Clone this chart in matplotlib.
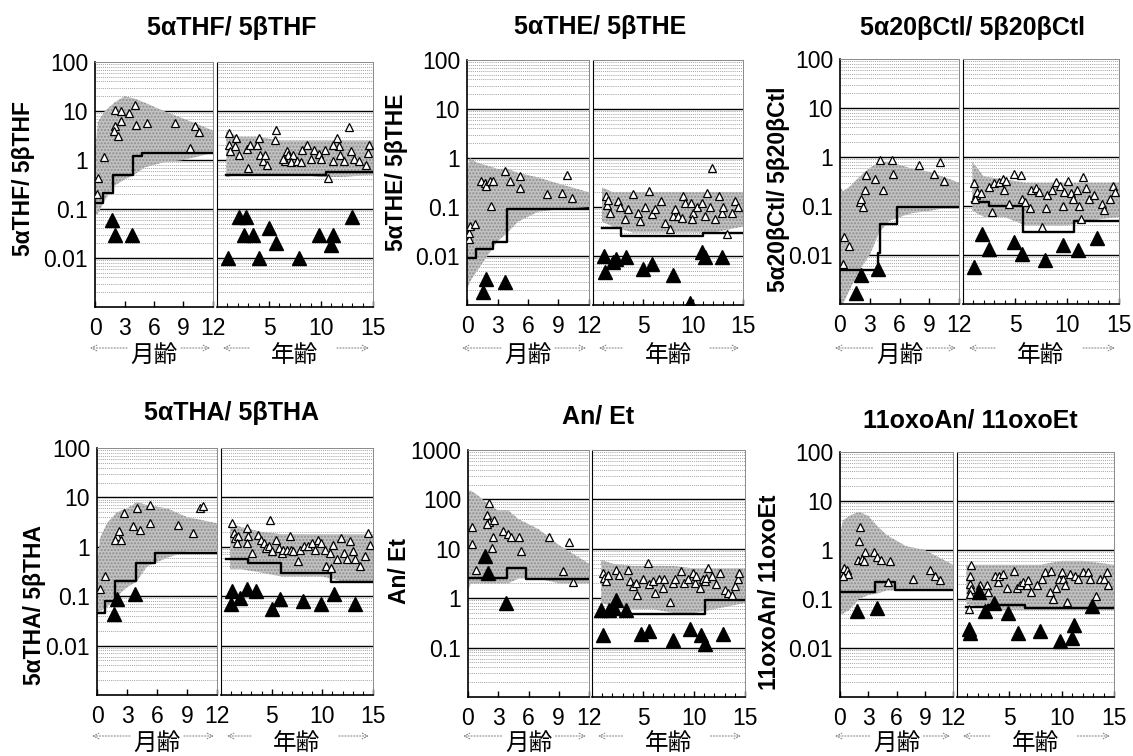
import numpy as np
import matplotlib
matplotlib.use("Agg")
import matplotlib.pyplot as plt
from matplotlib.ticker import FixedLocator, NullFormatter, MultipleLocator

plt.rcParams['font.family'] = ['Liberation Sans', 'Noto Sans CJK JP', 'DejaVu Sans']

# ---------------- data ----------------
titles = ["5αTHF/ 5βTHF", "5αTHE/ 5βTHE", "5α20βCtl/ 5β20βCtl",
          "5αTHA/ 5βTHA", "An/ Et", "11oxoAn/ 11oxoEt"]
ylims = [(0.001, 100), (0.001, 100), (0.001, 100), (0.001, 100), (0.01, 1000), (0.001, 100)]
month_ticks = [0, 3, 6, 9, 12]
year_ticks = [5, 10, 15]
month_label = "月齢"
year_label = "年齢"

cloud_mo_age = [0, 0.3, 1, 2, 3, 4, 5, 7, 9, 12]
cloud_yr_age = [0.9, 2, 4, 6, 8, 10, 12, 15]

# 1: THF
thf_cloud_mo_lo = [0.08, 0.08, 0.15, 0.3, 0.4, 0.5, 0.7, 0.9, 1.0, 1.4]
thf_cloud_mo_hi = [1.5, 6, 10, 15, 20, 18, 15, 10, 7, 4]
thf_cloud_yr_lo = [0.45, 0.5, 0.5, 0.5, 0.5, 0.45, 0.45, 0.5]
thf_cloud_yr_hi = [4, 3, 3, 2.5, 2.5, 2.5, 2.5, 2.5]
thf_open_mo_age = [0.34, 0.2, 0.9, 2.0, 2.6, 3.5, 4.1, 2.6, 2.0, 1.9, 2.3, 4.2, 5.3, 8.1, 10.2, 10.6, 9.7]
thf_open_mo_val = [0.43, 0.2, 1.15, 10.7, 10, 9, 13.5, 6.2, 4.9, 3.9, 3.1, 5.3, 5.7, 5.7, 4.9, 3.7, 1.75]
thf_fill_mo_age = [1.7, 2.0, 3.8]
thf_fill_mo_val = [0.06, 0.03, 0.03]
thf_step_mo_edges = [0, 0.8, 1.8, 3.9, 4.8, 12]
thf_step_mo_vals = [0.13, 0.21, 0.5, 1.2, 1.4]
thf_open_yr_age = [1.19, 1.2, 1.25, 1.83, 1.75, 2.07, 3.0, 2.85, 3.2, 3.8, 4.0, 4.1, 4.45, 4.8, 4.6, 5.7, 5.55,
                   6.7, 6.85, 7.3, 6.5, 6.3, 7.1, 7.7, 8.05, 8.2, 8.7, 9.0, 9.3, 9.8, 10.0, 10.4, 10.7, 11.2,
                   11.5, 11.7, 11.2, 11.85, 12.2, 12.7, 12.85, 13.2, 13.7, 14.5, 14.6, 14.3]
thf_open_yr_val = [3.5, 2.0, 1.5, 2.8, 1.9, 1.27, 0.68, 1.7, 2.0, 2.0, 2.8, 1.27, 0.94, 0.79, 1.27, 4.1, 2.56,
                   1.5, 1.27, 1.27, 0.94, 1.05, 0.9, 0.94, 0.9, 1.6, 2.0, 1.05, 1.6, 1.3, 1.05, 1.6, 0.43, 0.95,
                   2.8, 1.9, 2.0, 1.27, 0.94, 4.8, 1.5, 1.05, 0.94, 1.4, 2.0, 0.79]
thf_fill_yr_age = [1.1, 2.07, 2.8, 2.6, 3.5, 4.0, 5.0, 5.7, 7.9, 9.8, 11.2, 11.0, 13.0]
thf_fill_yr_val = [0.01, 0.07, 0.07, 0.03, 0.03, 0.01, 0.04, 0.02, 0.01, 0.03, 0.03, 0.018, 0.07]
thf_step_yr_edges = [0.9, 10.5, 15]
thf_step_yr_vals = [0.5, 0.58]

# 2: THE
the_cloud_mo_lo = [0.002, 0.003, 0.005, 0.01, 0.02, 0.03, 0.05, 0.08, 0.09, 0.1]
the_cloud_mo_hi = [0.6, 1.0, 0.8, 0.7, 0.6, 0.6, 0.5, 0.4, 0.3, 0.2]
the_cloud_yr_lo = [0.05, 0.04, 0.03, 0.03, 0.03, 0.03, 0.03, 0.04]
the_cloud_yr_hi = [0.25, 0.2, 0.2, 0.2, 0.2, 0.2, 0.2, 0.2]
the_open_mo_age = [0.17, 0.2, 0.33, 0.76, 1.4, 1.75, 1.9, 2.25, 2.6, 2.4, 3.7, 4.2, 5.2, 5.2, 7.9, 9.35, 9.85, 10.3]
the_open_mo_val = [0.022, 0.03, 0.041, 0.044, 0.34, 0.31, 0.27, 0.34, 0.34, 0.105, 0.54, 0.34, 0.43, 0.25,
                   0.18, 0.19, 0.46, 0.155]
the_fill_mo_age = [1.85, 1.6, 3.7]
the_fill_mo_val = [0.0034, 0.0018, 0.003]
the_step_mo_edges = [0, 0.9, 2.6, 3.9, 12]
the_step_mo_vals = [0.009, 0.014, 0.019, 0.09]
the_open_yr_age = [1.27, 1.4, 1.5, 1.67, 2.5, 2.7, 3.2, 3.5, 4.0, 4.5, 4.7, 5.2, 5.6, 5.85, 6.2, 6.75, 7.2, 7.7,
                   8.0, 8.2, 8.5, 9.0, 8.9, 9.2, 9.8, 10.0, 9.85, 10.4, 10.9, 11.2, 11.4, 11.7, 11.9, 12.2,
                   12.6, 12.9, 13.0, 13.4, 13.9, 14.2, 14.45]
the_open_yr_val = [0.17, 0.11, 0.14, 0.077, 0.13, 0.1, 0.056, 0.09, 0.18, 0.077, 0.052, 0.1, 0.21, 0.071, 0.09,
                   0.13, 0.048, 0.035, 0.066, 0.09, 0.066, 0.17, 0.06, 0.12, 0.12, 0.077, 0.056, 0.1, 0.12,
                   0.066, 0.195, 0.1, 0.63, 0.056, 0.17, 0.077, 0.1, 0.028, 0.077, 0.13, 0.1]
the_fill_yr_age = [1.07, 1.17, 2.0, 2.34, 3.34, 5.0, 5.85, 7.96, 9.7, 10.9, 11.2, 12.9]
the_fill_yr_val = [0.010, 0.0047, 0.0074, 0.0087, 0.0094, 0.0055, 0.0069, 0.004, 0.0011, 0.012, 0.0094, 0.0094]
the_step_yr_edges = [0.9, 2.8, 11.0, 15]
the_step_yr_vals = [0.038, 0.026, 0.029]

# 3: 20bCtl
ctl_cloud_mo_lo = [0.001, 0.001, 0.002, 0.005, 0.01, 0.03, 0.05, 0.07, 0.08, 0.1]
ctl_cloud_mo_hi = [0.25, 0.2, 0.25, 0.4, 0.6, 0.8, 0.8, 0.6, 0.5, 0.3]
ctl_cloud_yr_lo = [0.08, 0.06, 0.06, 0.04, 0.04, 0.04, 0.05, 0.06]
ctl_cloud_yr_hi = [0.8, 0.4, 0.35, 0.3, 0.3, 0.3, 0.3, 0.3]
ctl_open_mo_age = [0.44, 0.88, 0.34, 1.97, 2.1, 2.3, 2.5, 2.65, 3.5, 4.0, 4.3, 5.2, 5.3, 8.0, 9.5, 10.1, 10.5]
ctl_open_mo_val = [0.023, 0.015, 0.0066, 0.12, 0.14, 0.096, 0.21, 0.42, 0.36, 0.86, 0.21, 0.86, 0.46, 0.68,
                   0.44, 0.79, 0.32]
ctl_fill_mo_age = [2.07, 1.63, 3.84]
ctl_fill_mo_val = [0.0039, 0.0017, 0.0053]
ctl_step_mo_edges = [0, 3.8, 4.0, 5.7, 12]
ctl_step_mo_vals = [0.005, 0.011, 0.042, 0.095]
ctl_open_yr_age = [1.06, 1.22, 1.2, 1.38, 1.7, 2.5, 2.8, 3.0, 3.5, 3.8, 3.95, 4.1, 4.4, 4.9, 5.55, 5.7, 6.0, 6.4,
                   6.5, 7.0, 7.3, 7.6, 8.0, 8.1, 8.6, 8.9, 9.3, 9.6, 9.7, 10.1, 10.4, 10.6, 11.0, 11.2, 11.35,
                   11.5, 11.8, 12.15, 12.6, 13.4, 13.6, 14.1, 14.4, 14.6]
ctl_open_yr_val = [0.29, 0.165, 0.14, 0.19, 0.18, 0.24, 0.075, 0.29, 0.31, 0.36, 0.21, 0.33, 0.11, 0.46, 0.42,
                   0.14, 0.12, 0.089, 0.21, 0.23, 0.19, 0.037, 0.089, 0.165, 0.21, 0.31, 0.26, 0.1, 0.19, 0.33,
                   0.18, 0.14, 0.21, 0.1, 0.055, 0.39, 0.23, 0.14, 0.165, 0.11, 0.082, 0.14, 0.26, 0.19]
ctl_fill_yr_age = [1.06, 1.86, 2.5, 4.9, 5.7, 7.9, 9.6, 11.1, 12.9]
ctl_fill_yr_val = [0.0057, 0.027, 0.013, 0.018, 0.0107, 0.0078, 0.016, 0.0125, 0.022]
ctl_step_yr_edges = [0.9, 2.5, 5.8, 10.7, 15]
ctl_step_yr_vals = [0.12, 0.1, 0.03, 0.049]

# 4: THA
tha_cloud_mo_lo = [0.04, 0.05, 0.06, 0.1, 0.15, 0.2, 0.4, 0.6, 0.8, 0.8]
tha_cloud_mo_hi = [0.4, 1.5, 3, 5, 6, 8, 7, 6, 4, 3]
tha_cloud_yr_lo = [0.35, 0.35, 0.3, 0.25, 0.25, 0.25, 0.2, 0.2]
tha_cloud_yr_hi = [3, 2.5, 2, 1.8, 1.8, 1.8, 1.8, 1.8]
tha_open_mo_age = [0.33, 0.83, 2.0, 2.2, 1.8, 2.4, 2.7, 3.6, 4.0, 4.3, 5.3, 5.3, 8.1, 9.6, 10.3, 10.6]
tha_open_mo_val = [0.138, 0.26, 1.64, 2.1, 1.4, 1.4, 4.8, 2.6, 6.1, 2.2, 7.1, 3.0, 2.8, 1.9, 6.1, 6.6]
tha_fill_mo_age = [2.0, 1.7, 3.8]
tha_fill_mo_val = [0.087, 0.043, 0.11]
tha_step_mo_edges = [0, 0.8, 1.8, 3.9, 5.8, 12]
tha_step_mo_vals = [0.045, 0.08, 0.2, 0.48, 0.74]
tha_open_yr_age = [1.08, 1.25, 1.4, 1.64, 1.57, 2.56, 2.7, 2.56, 3.05, 3.7, 3.9, 4.2, 4.4, 4.8, 4.7, 5.0, 5.45,
                   5.7, 6.0, 6.15, 6.5, 6.8, 6.9, 7.15, 7.6, 7.8, 8.2, 8.6, 8.95, 9.3, 9.6, 9.9, 10.3, 10.4,
                   10.75, 10.9, 11.1, 11.4, 11.8, 12.1, 12.4, 12.7, 13.05, 13.2, 13.7, 14.2, 14.5, 14.7]
tha_open_yr_val = [3.0, 1.9, 1.5, 1.65, 1.2, 2.4, 1.65, 1.2, 0.76, 1.77, 1.4, 1.2, 0.95, 3.55, 1.03, 0.82, 1.4,
                   0.95, 0.76, 0.88, 0.88, 1.65, 0.88, 0.82, 0.51, 0.88, 1.03, 1.03, 1.2, 0.88, 1.4, 1.2, 0.88,
                   0.41, 0.76, 0.38, 1.1, 0.56, 1.5, 0.76, 0.56, 1.3, 0.82, 0.56, 0.41, 0.65, 1.9, 1.1]
tha_fill_yr_age = [1.08, 1.0, 1.9, 2.6, 3.5, 5.0, 5.85, 8.1, 9.9, 11.2, 13.2]
tha_fill_yr_val = [0.128, 0.069, 0.094, 0.142, 0.128, 0.055, 0.087, 0.08, 0.069, 0.11, 0.069]
tha_step_yr_edges = [0.5, 2.7, 5.9, 10.9, 15]
tha_step_yr_vals = [0.56, 0.47, 0.3, 0.19]

# 5: An/Et
an_cloud_mo_lo = [1.5, 2, 2, 2, 2, 2, 2.5, 2.5, 2, 2]
an_cloud_mo_hi = [150, 150, 120, 80, 60, 60, 40, 25, 12, 5]
an_cloud_yr_lo = [0.8, 0.7, 0.6, 0.6, 0.5, 0.5, 0.6, 0.8]
an_cloud_yr_hi = [6, 5, 4.5, 4.5, 4.5, 4, 4, 4]
an_open_mo_age = [0.37, 0.44, 0.84, 2.1, 1.85, 2.1, 2.6, 1.9, 2.45, 2.4, 3.45, 3.96, 4.3, 5.1, 5.3, 8.0, 10.0,
                  9.4, 10.4]
an_open_mo_val = [27, 12.5, 3.8, 83, 48, 35, 38, 32, 17, 10.6, 23, 20, 17, 17, 9.1, 17, 13.5, 3.5, 2.1]
an_fill_mo_age = [1.7, 1.95, 3.8]
an_fill_mo_val = [7.2, 3.3, 0.79]
an_step_mo_edges = [0, 3.9, 5.8, 12]
an_step_mo_vals = [2.6, 4.1, 2.4]
an_open_yr_age = [1.05, 1.2, 1.4, 1.6, 2.4, 2.6, 3.5, 3.7, 4.0, 4.3, 4.4, 5.0, 5.5, 5.6, 5.95, 6.2, 6.6, 6.95,
                  7.1, 7.6, 7.9, 8.1, 8.75, 9.0, 9.4, 9.9, 10.1, 10.2, 10.55, 10.9, 11.05, 11.4, 11.2, 11.8,
                  12.2, 12.5, 13.0, 13.3, 13.7, 14.0, 14.3, 14.4]
an_open_yr_val = [3.3, 2.6, 2.2, 3.0, 3.8, 3.0, 3.8, 2.2, 1.74, 2.0, 1.17, 2.4, 5.2, 1.9, 2.2, 1.27, 2.4, 1.6,
                  2.4, 0.85, 2.0, 2.4, 3.5, 2.0, 2.4, 3.3, 2.0, 2.8, 1.6, 2.4, 2.2, 4.1, 2.6, 2.8, 1.9, 3.3,
                  1.5, 1.27, 1.17, 1.74, 2.4, 3.3]
an_fill_yr_age = [0.9, 1.05, 1.7, 2.4, 2.2, 3.3, 4.8, 5.6, 7.9, 9.6, 10.7, 11.1, 12.85]
an_fill_yr_val = [0.58, 0.18, 0.58, 0.92, 0.62, 0.58, 0.19, 0.22, 0.14, 0.24, 0.18, 0.12, 0.19]
an_step_yr_edges = [0.7, 11.05, 15]
an_step_yr_vals = [0.48, 0.92]

# 6: 11oxoAn/11oxoEt
oxo_cloud_mo_lo = [0.05, 0.05, 0.06, 0.1, 0.12, 0.13, 0.15, 0.15, 0.15, 0.15]
oxo_cloud_mo_hi = [2, 4, 5, 6, 5, 3, 2, 1.2, 1.0, 0.5]
oxo_cloud_yr_lo = [0.08, 0.07, 0.06, 0.06, 0.06, 0.06, 0.06, 0.06]
oxo_cloud_yr_hi = [0.5, 0.5, 0.5, 0.5, 0.5, 0.6, 0.6, 0.5]
oxo_open_mo_age = [0.42, 0.78, 0.88, 0.35, 2.1, 2.05, 2.65, 1.95, 2.3, 2.55, 3.6, 3.95, 4.4, 5.3, 5.1, 7.8, 9.6,
                   10.1, 10.6]
oxo_open_mo_val = [0.42, 0.39, 0.33, 0.30, 3.0, 1.5, 0.92, 0.62, 0.67, 0.59, 0.92, 0.73, 0.62, 0.59, 0.22, 0.26,
                   0.39, 0.30, 0.24]
oxo_fill_mo_age = [1.84, 3.9]
oxo_fill_mo_val = [0.057, 0.067]
oxo_step_mo_edges = [0, 3.7, 5.8, 12]
oxo_step_mo_vals = [0.14, 0.22, 0.15]
oxo_open_yr_age = [1.33, 1.2, 1.27, 1.33, 1.2, 1.1, 2.2, 2.86, 3.0, 3.65, 3.9, 4.06, 4.44, 4.8, 5.4, 5.7, 6.0,
                   6.35, 6.67, 6.8, 7.05, 7.6, 8.1, 8.4, 8.95, 8.9, 9.2, 9.5, 9.7, 10.0, 10.16, 10.3, 10.5, 10.8,
                   11.27, 11.6, 12.0, 12.5, 12.7, 13.3, 13.65, 14.0, 14.35, 14.4]
oxo_open_yr_val = [0.49, 0.30, 0.2, 0.16, 0.127, 0.062, 0.19, 0.19, 0.137, 0.30, 0.22, 0.30, 0.33, 0.17, 0.37,
                   0.17, 0.19, 0.22, 0.19, 0.24, 0.137, 0.19, 0.26, 0.36, 0.37, 0.137, 0.1, 0.17, 0.26, 0.36,
                   0.26, 0.19, 0.085, 0.33, 0.30, 0.26, 0.36, 0.36, 0.26, 0.117, 0.26, 0.26, 0.36, 0.19]
oxo_fill_yr_age = [1.1, 1.2, 2.06, 2.7, 3.5, 4.9, 5.8, 7.9, 9.8, 10.95, 11.2, 12.9]
oxo_fill_yr_val = [0.024, 0.020, 0.137, 0.057, 0.083, 0.053, 0.020, 0.022, 0.0138, 0.016, 0.030, 0.073]
oxo_step_yr_edges = [0.9, 3.0, 6.5, 15]
oxo_step_yr_vals = [0.07, 0.075, 0.064]

# ---------------- layout (pixels) ----------------
W, H = 1133, 756
# (mo_left, mo_right, yr_left, yr_right, top, bottom)
boxes = [(95, 213, 217, 373, 62, 307), (467, 589, 593, 743, 60, 305), (840, 959, 963, 1119, 59, 304),
         (97, 217, 221, 373, 448, 695), (468, 589, 592, 745, 450, 697), (840, 953, 957, 1114, 452, 697)]
title_pos = [(232, 28), (600, 27), (972, 28), (231, 413), (598, 416), (970, 421)]
ylabel_pos = [(24, 178), (397, 172), (779, 189), (35, 605), (399, 571), (770, 592)]

fig = plt.figure(figsize=(W / 100, H / 100), dpi=100)
ov = fig.add_axes([0, 0, 1, 1])
ov.set_xlim(0, W)
ov.set_ylim(H, 0)
ov.axis('off')

ns = globals()
prefixes = ['thf', 'the', 'ctl', 'tha', 'an', 'oxo']


def style_axis(ax, ylim):
    ax.set_yscale('log')
    ax.set_ylim(*ylim)
    lo, hi = ylim
    dec = [10.0 ** k for k in range(int(round(np.log10(lo))), int(round(np.log10(hi))) + 1)]
    minors = [d * s for d in dec[:-1] for s in range(2, 10)]
    for m in minors:
        ax.axhline(m, color='#8a8a8a', lw=0.6, ls=(0, (1, 1.3)), zorder=0.5)
    for d in dec[1:-1]:
        ax.axhline(d, color='black', lw=1.0, zorder=0.6)
    ax.yaxis.set_minor_locator(FixedLocator(minors))
    ax.yaxis.set_minor_formatter(NullFormatter())
    ax.tick_params(axis='y', which='both', length=0)
    ax.tick_params(axis='x', which='both', direction='in', labelsize=16.5, pad=7)
    ax.tick_params(axis='x', which='major', length=4, width=1)
    ax.tick_params(axis='x', which='minor', length=3, width=0.8)
    for s in ['top', 'right']:
        ax.spines[s].set_color('#8a8a8a')
        ax.spines[s].set_linewidth(0.7)
    ax.spines['bottom'].set_linewidth(1.2)
    ax.set_facecolor('white')
    return dec


def draw_part(ax, age, lo, hi, o_age, o_val, f_age, f_val, s_edges, s_vals):
    ax.fill_between(age, lo, hi, facecolor='#c2c2c2', edgecolor='#8e8e8e', hatch='.....',
                    linewidth=0, zorder=1)
    ax.step(s_edges, list(s_vals) + [s_vals[-1]], where='post', color='black', lw=1.7, zorder=3)
    ax.plot(o_age, o_val, ls='none', marker='^', ms=5.8, mfc='white', mec='black', mew=0.9, zorder=4)
    ax.plot(f_age, f_val, ls='none', marker='^', ms=10.5, mfc='black', mec='black', zorder=5)


for i, p in enumerate(prefixes):
    ml, mr, yl, yr, top, bot = boxes[i]
    g = lambda name: ns[f"{p}_{name}"]
    axm = fig.add_axes([ml / W, 1 - bot / H, (mr - ml) / W, (bot - top) / H])
    axy = fig.add_axes([yl / W, 1 - bot / H, (yr - yl) / W, (bot - top) / H])
    dec = style_axis(axm, ylims[i])
    style_axis(axy, ylims[i])

    axm.set_xlim(0, 12)
    axm.set_xticks(month_ticks)
    axm.set_xticklabels([str(t) for t in month_ticks])
    axm.set_yticks(dec[1:])
    axm.set_yticklabels([f"{v:g}" for v in dec[1:]])
    axm.tick_params(axis='y', labelsize=16.5, pad=5)
    axm.spines['left'].set_linewidth(1.2)

    axy.set_xlim(0, 15)
    axy.set_xticks(year_ticks)
    axy.set_xticklabels([str(t) for t in year_ticks])
    axy.xaxis.set_minor_locator(MultipleLocator(1))
    axy.set_yticks([])
    axy.spines['left'].set_linewidth(0.8)

    draw_part(axm, cloud_mo_age, g('cloud_mo_lo'), g('cloud_mo_hi'), g('open_mo_age'), g('open_mo_val'),
              g('fill_mo_age'), g('fill_mo_val'), g('step_mo_edges'), g('step_mo_vals'))
    draw_part(axy, cloud_yr_age, g('cloud_yr_lo'), g('cloud_yr_hi'), g('open_yr_age'), g('open_yr_val'),
              g('fill_yr_age'), g('fill_yr_val'), g('step_yr_edges'), g('step_yr_vals'))

    # texts
    tx, ty = title_pos[i]
    ov.text(tx, ty, titles[i], ha='center', va='center', fontsize=18, fontweight='bold')
    lx, ly = ylabel_pos[i]
    ov.text(lx, ly, titles[i], ha='center', va='center', rotation=90, fontsize=16.5, fontweight='bold')

    row_y = 356 if i < 3 else 744
    arr_y = row_y - 8
    cm = (ml + mr) / 2
    cy = (yl + yr) / 2
    ov.text(cm, row_y, month_label, ha='center', va='center', fontsize=17)
    ov.text(cy, row_y, year_label, ha='center', va='center', fontsize=17)
    ap = dict(arrowstyle='->', color='#8a8a8a', lw=0.8, linestyle=':', shrinkA=0, shrinkB=0)
    ov.annotate('', xy=(ml - 5, arr_y), xytext=(cm - 27, arr_y), arrowprops=ap)
    ov.annotate('', xy=(mr - 3, arr_y), xytext=(cm + 27, arr_y), arrowprops=ap)
    ov.annotate('', xy=(yl + 6, arr_y), xytext=(cy - 46, arr_y), arrowprops=ap)
    ov.annotate('', xy=(yr - 4, arr_y), xytext=(cy + 42, arr_y), arrowprops=ap)

fig.savefig('out.png', dpi=100)
